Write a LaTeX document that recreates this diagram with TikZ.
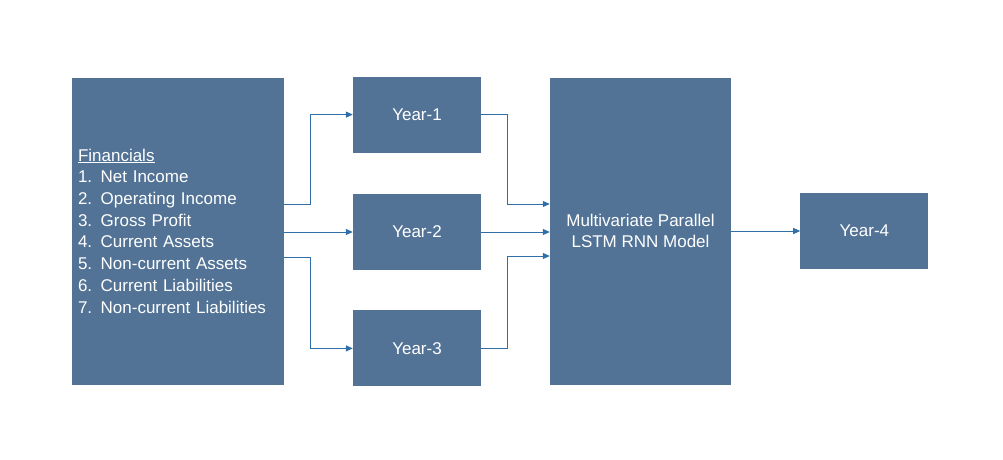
\documentclass[tikz,border=0pt]{standalone}
\usepackage{fontspec}
\setmainfont{Liberation Sans}
\usetikzlibrary{positioning,arrows.meta}
\definecolor{boxblue}{HTML}{527396}
\definecolor{lineblue}{HTML}{2F6EA6}
\tikzset{
  block/.style={fill=boxblue,text=white,minimum width=128pt,minimum height=76pt,inner sep=0pt,font=\fontsize{17}{21.7}\selectfont},
  tall/.style={block,minimum height=307pt},
  conn/.style={lineblue,line width=1pt,-{Triangle[length=7pt,width=6pt]}}
}
\begin{document}
\begin{tikzpicture}[x=1pt,y=-1pt]
        \useasboundingbox (0,0) rectangle (1003,459);

        \node[tall,minimum width=212pt,text width=200pt,align=left] (fin) at (178,231)
          {\underline{Financials}\\1. Net Income\\2. Operating Income\\3. Gross Profit\\4. Current Assets\\5. Non-current Assets\\6. Current Liabilities\\7. Non-current Liabilities};
        \node[block] (y2) at (417,232) {Year-2};
        \node[block,above=41pt of y2] (y1) {Year-1};
        \node[block,below=40pt of y2] (y3) {Year-3};
        \node[tall,minimum width=181pt,align=center] (model) at (640.5,231) {Multivariate Parallel\\LSTM RNN Model};
        \node[block,right=69pt of model] (y4) {Year-4};

        \draw[conn] ([yshift=27pt]fin.east) -- ++(26,0) |- (y1.west);
        \draw[conn] ([yshift=-1pt]fin.east) -- (y2.west);
        \draw[conn] ([yshift=-26pt]fin.east) -- ++(26,0) |- (y3.west);

        \draw[conn] (y1.east) -- ++(26,0) |- ([yshift=27pt]model.west);
        \draw[conn] (y2.east) -- ([yshift=-1pt]model.west);
        \draw[conn] (y3.east) -- ++(26,0) |- ([yshift=-25pt]model.west);
        \draw[conn] (model.east) -- (y4.west);
      \end{tikzpicture}
\end{document}
